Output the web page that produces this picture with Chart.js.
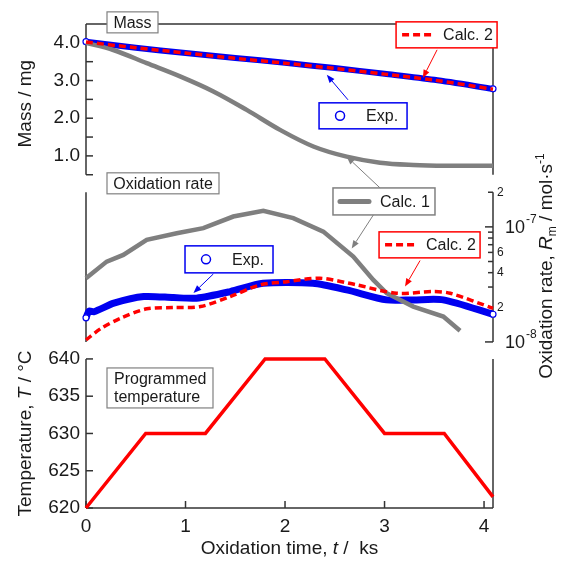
<!DOCTYPE html>
<html lang="en">
<head>
<meta charset="UTF-8" />
<title>Mass, oxidation rate and programmed temperature</title>
<script src="https://cdn.jsdelivr.net/npm/chart.js"></script>
<style>
  html, body { margin: 0; padding: 0; background: #fff; }
  #wrap { position: relative; width: 572px; height: 562px; }
</style>
</head>
<body>
<div id="wrap"><canvas id="chart"></canvas></div>
<script>
// ---- ticks ----
const timeTicks = [0, 1, 2, 3, 4];
const massTicks = [1.0, 2.0, 3.0, 4.0];
const massTickMarks = [0.5, 1.0, 1.5, 2.0, 2.5, 3.0, 3.5, 4.0];
const tempTicks = [620, 625, 630, 635, 640];
const rateDecades = [1e-8, 1e-7];
const rateMinorTicks = [2e-8, 3e-8, 4e-8, 5e-8, 6e-8, 7e-8, 8e-8, 9e-8, 2e-7];
const rateMinorLabelValues = [2e-8, 4e-8, 6e-8, 2e-7];
const rateMinorLabels = ['2', '4', '6', '2'];

// panel extents (where the axis lines run)
const timeRange = [0, 4.09];
const massRange = [0.5, 4.5];
const rateRange = [1e-8, 2e-7];
const tempRange = [620, 640];

// ---- mass / mg ----
const massExpTime = [0, 0.5, 1.0, 1.5, 2.0, 2.5, 3.0, 3.5, 4.09];
const massExp = [4.03, 3.87, 3.73, 3.60, 3.47, 3.33, 3.18, 3.02, 2.78];
const massCalc2Time = [0, 0.5, 1.0, 1.5, 2.0, 2.5, 3.0, 3.5, 4.09];
const massCalc2 = [4.02, 3.87, 3.73, 3.59, 3.46, 3.32, 3.17, 3.01, 2.77];
const massCalc1Time = [0, 0.275, 0.61, 0.945, 1.28, 1.615, 1.95, 2.285, 2.62, 2.955, 3.29, 3.625, 4.09];
const massCalc1 = [4.0, 3.81, 3.46, 3.11, 2.71, 2.22, 1.69, 1.25, 0.98, 0.82, 0.76, 0.74, 0.74];

// ---- oxidation rate / mol s-1 ----
const rateExpTime = [0, 0.03, 0.08, 0.28, 0.58, 0.88, 1.11, 1.45, 1.78, 2.28, 2.62, 3.02, 3.29, 3.59, 4.09];
const rateExp = [1.62e-8, 1.85e-8, 1.83e-8, 2.17e-8, 2.48e-8, 2.43e-8, 2.40e-8, 2.74e-8, 3.23e-8, 3.23e-8, 2.83e-8, 2.32e-8, 2.32e-8, 2.32e-8, 1.74e-8];
const rateCalc2Time = [0, 0.15, 0.35, 0.61, 0.88, 1.15, 1.45, 1.75, 2.02, 2.35, 2.72, 3.12, 3.49, 3.66, 4.09];
const rateCalc2 = [1.04e-8, 1.31e-8, 1.61e-8, 1.94e-8, 1.99e-8, 2.03e-8, 2.48e-8, 3.13e-8, 3.34e-8, 3.58e-8, 3.13e-8, 2.65e-8, 2.74e-8, 2.65e-8, 1.96e-8];
const rateCalc1Time = [0, 0.208, 0.375, 0.61, 0.912, 1.179, 1.48, 1.782, 2.083, 2.385, 2.686, 2.887, 3.022, 3.289, 3.591, 3.759];
const rateCalc1 = [3.58e-8, 4.99e-8, 5.71e-8, 7.71e-8, 8.81e-8, 9.74e-8, 1.23e-7, 1.38e-7, 1.19e-7, 9.1e-8, 5.52e-8, 3.46e-8, 2.65e-8, 2.03e-8, 1.66e-8, 1.25e-8];

// ---- programmed temperature / °C ----
const tempTime = [0, 0.6, 1.2, 1.8, 2.4, 3.0, 3.6, 4.09];
const tempValue = [620, 630, 630, 640, 640, 630, 630, 621.5];

const FONT = '"Liberation Sans", Arial, Helvetica, sans-serif';
const TEXT = '#1a1a1a';
const AXIS = '#333';
const BLUE = '#0000f0';
const RED = '#ff0000';
const GREY = '#7f7f7f';
const BOXGREY = '#808080';

// scale limits incl. the white gaps between panels (panel heights in px: 159.3 / 167 / 157.5)
const massLimits = [0.271, 4.5];
const rateLimits = [8.435e-9, 2.389e-7];
const tempLimits = [620, 641.14];

const pts = (xs, ys) => xs.map((x, i) => ({ x, y: ys[i] }));
const ends = c => (c.dataIndex === 0 || c.dataIndex === c.dataset.data.length - 1) ? 3 : 0;

Chart.defaults.font.family = FONT;
Chart.defaults.color = TEXT;

// annotation boxes: anchor (top-left) in data units, size in px
const labelBoxes = [
  { axis: 'yMass', x: 0.211, y: 4.822, w: 51, h: 21, lines: ['Mass'], align: 'center' },
  { axis: 'yRate', x: 0.211, y: 2.95e-7, w: 112, h: 21, lines: ['Oxidation rate'], align: 'center' },
  { axis: 'yTemp', x: 0.211, y: 638.79, w: 106, h: 40, lines: ['Programmed', 'temperature'], align: 'left' }
];
const legendBoxes = [
  { axis: 'yMass', x: 3.116, y: 4.557, w: 101, h: 26, kind: 'dash', color: RED, text: 'Calc. 2' },
  { axis: 'yMass', x: 2.342, y: 2.408, w: 88, h: 26, kind: 'circle', color: BLUE, text: 'Exp.' },
  { axis: 'yRate', x: 2.482, y: 2.18e-7, w: 102, h: 27, kind: 'line', color: BOXGREY, text: 'Calc. 1' },
  { axis: 'yRate', x: 0.995, y: 6.84e-8, w: 88, h: 27, kind: 'circle', color: BLUE, text: 'Exp.' },
  { axis: 'yRate', x: 2.945, y: 9.05e-8, w: 101, h: 26, kind: 'dash', color: RED, text: 'Calc. 2' }
];
const arrows = [
  { color: RED, from: ['yMass', 3.528, 3.814], to: ['yMass', 3.385, 3.07] },
  { color: BLUE, from: ['yMass', 2.633, 2.488], to: ['yMass', 2.42, 3.15] },
  { color: GREY, from: ['yRate', 2.955, 2.18e-7], to: ['yMass', 2.62, 0.98] },
  { color: GREY, from: ['yRate', 2.888, 1.27e-7], to: ['yRate', 2.67, 6.5e-8] },
  { color: BLUE, from: ['yRate', 1.28, 3.9e-8], to: ['yRate', 1.08, 2.66e-8] },
  { color: RED, from: ['yRate', 3.357, 5.1e-8], to: ['yRate', 3.206, 3.03e-8] }
];

function richText(ctx, parts, cx, cy, rot, size) {
  const fontOf = p => (p.it ? 'italic ' : '') + ((p.sub || p.sup) ? Math.round(size * 0.65) : size) + 'px ' + FONT;
  let total = 0;
  parts.forEach(p => { ctx.font = fontOf(p); p.w = ctx.measureText(p.t).width; total += p.w; });
  ctx.save();
  ctx.translate(cx, cy);
  ctx.rotate(rot);
  ctx.textAlign = 'left';
  ctx.textBaseline = 'middle';
  ctx.fillStyle = TEXT;
  let x = -total / 2;
  parts.forEach(p => {
    ctx.font = fontOf(p);
    const dy = p.sub ? size * 0.3 : p.sup ? -size * 0.35 : 0;
    ctx.fillText(p.t, x, dy);
    x += p.w;
  });
  ctx.restore();
}

function arrowLine(ctx, x1, y1, x2, y2, color) {
  const a = Math.atan2(y2 - y1, x2 - x1);
  const len = 8, half = 3.2;
  const bx = x2 - len * Math.cos(a), by = y2 - len * Math.sin(a);
  ctx.strokeStyle = color; ctx.fillStyle = color; ctx.lineWidth = 1; ctx.setLineDash([]);
  ctx.beginPath(); ctx.moveTo(x1, y1); ctx.lineTo(bx, by); ctx.stroke();
  ctx.beginPath();
  ctx.moveTo(x2, y2);
  ctx.lineTo(bx + half * Math.sin(a), by - half * Math.cos(a));
  ctx.lineTo(bx - half * Math.sin(a), by + half * Math.cos(a));
  ctx.closePath(); ctx.fill();
}

const framePlugin = {
  id: 'frame',
  beforeDatasetsDraw(chart) {
    const { ctx, chartArea: { left: L, right: R }, scales: { x, yMass, yRate, yTemp } } = chart;
    const seg = (x1, y1, x2, y2) => { ctx.beginPath(); ctx.moveTo(x1, y1); ctx.lineTo(x2, y2); ctx.stroke(); };
    ctx.save();
    ctx.strokeStyle = AXIS;
    ctx.lineWidth = 1.5;

    // mass panel: box without bottom edge
    const mT = yMass.getPixelForValue(massRange[1]), mB = yMass.getPixelForValue(massRange[0]);
    seg(L, mT, R, mT); seg(L, mT, L, mB); seg(R, mT, R, mB);
    massTickMarks.forEach(v => { const y = yMass.getPixelForValue(v); seg(L, y, L + 7, y); });

    // rate panel
    const rT = yRate.getPixelForValue(rateRange[1]), rB = yRate.getPixelForValue(rateRange[0]);
    seg(L, rT, L, rB); seg(R, rT, R, rB);
    rateDecades.forEach(v => { const y = yRate.getPixelForValue(v); seg(R - 8, y, R, y); });
    rateMinorTicks.forEach(v => { const y = yRate.getPixelForValue(v); seg(R - 5, y, R, y); });

    // temperature panel
    const tT = yTemp.getPixelForValue(tempRange[1]), tB = yTemp.getPixelForValue(tempRange[0]);
    seg(L, tT, L, tB); seg(R, tT, R, tB); seg(L, tB, R, tB);
    tempTicks.forEach(v => { const y = yTemp.getPixelForValue(v); seg(L, y, L + 7, y); });
    timeTicks.forEach(v => { const px = x.getPixelForValue(v); seg(px, tB, px, tB - 7); });

    // log axis labels
    ctx.fillStyle = TEXT;
    ctx.textAlign = 'left';
    ctx.textBaseline = 'middle';
    rateMinorLabelValues.forEach((v, i) => {
      ctx.font = '12px ' + FONT;
      ctx.fillText(rateMinorLabels[i], R + 4, yRate.getPixelForValue(v));
    });
    rateDecades.forEach(v => {
      const y = yRate.getPixelForValue(v);
      ctx.font = '18px ' + FONT;
      ctx.fillText('10', R + 12, y + 1);
      const w = ctx.measureText('10').width;
      ctx.font = '12px ' + FONT;
      ctx.fillText(String(Math.round(Math.log10(v))), R + 13 + w, y - 7);
    });

    // axis titles with italic symbols
    richText(ctx, [{ t: 'Temperature, ' }, { t: 'T', it: 1 }, { t: ' / °C' }], 26, (tT + tB) / 2, -Math.PI / 2, 19);
    richText(ctx, [{ t: 'Oxidation time, ' }, { t: 't', it: 1 }, { t: ' /  ks' }], (L + R) / 2, 549, 0, 19);
    richText(ctx, [{ t: 'Oxidation rate, ' }, { t: 'R', it: 1 }, { t: 'm', sub: 1 }, { t: ' / mol·s' }, { t: '-1', sup: 1 }],
      547, 266, -Math.PI / 2, 19);
    ctx.restore();
  },
  afterDatasetsDraw(chart) {
    const { ctx, scales } = chart;
    const P = (axis, xv, yv) => [scales.x.getPixelForValue(xv), scales[axis].getPixelForValue(yv)];
    ctx.save();
    ctx.textBaseline = 'middle';

    labelBoxes.forEach(b => {
      const [bx, by] = P(b.axis, b.x, b.y);
      ctx.fillStyle = '#fff'; ctx.fillRect(bx, by, b.w, b.h);
      ctx.strokeStyle = BOXGREY; ctx.lineWidth = 1.2; ctx.strokeRect(bx, by, b.w, b.h);
      ctx.fillStyle = TEXT; ctx.font = '16px ' + FONT;
      ctx.textAlign = b.align;
      const lh = 18, y0 = by + (b.h - lh * (b.lines.length - 1)) / 2;
      b.lines.forEach((s, i) => ctx.fillText(s, b.align === 'center' ? bx + b.w / 2 : bx + 7, y0 + i * lh + 1));
    });

    legendBoxes.forEach(b => {
      const [bx, by] = P(b.axis, b.x, b.y);
      const my = by + b.h / 2;
      ctx.fillStyle = '#fff'; ctx.fillRect(bx, by, b.w, b.h);
      ctx.strokeStyle = b.color; ctx.lineWidth = 1.5; ctx.setLineDash([]); ctx.strokeRect(bx, by, b.w, b.h);
      if (b.kind === 'dash') {
        ctx.strokeStyle = RED; ctx.lineWidth = 3.5; ctx.setLineDash([7, 4]);
        ctx.beginPath(); ctx.moveTo(bx + 6, my); ctx.lineTo(bx + 36, my); ctx.stroke();
        ctx.setLineDash([]);
      } else if (b.kind === 'line') {
        ctx.strokeStyle = GREY; ctx.lineWidth = 5; ctx.lineCap = 'round';
        ctx.beginPath(); ctx.moveTo(bx + 7, my); ctx.lineTo(bx + 36, my); ctx.stroke();
        ctx.lineCap = 'butt';
      } else {
        ctx.strokeStyle = BLUE; ctx.fillStyle = '#fff'; ctx.lineWidth = 1.5;
        ctx.beginPath(); ctx.arc(bx + 21, my, 4.5, 0, Math.PI * 2); ctx.fill(); ctx.stroke();
      }
      ctx.fillStyle = TEXT; ctx.font = '16px ' + FONT; ctx.textAlign = 'left';
      ctx.fillText(b.text, bx + 47, my + 1);
    });

    arrows.forEach(a => {
      const [x1, y1] = P(a.from[0], a.from[1], a.from[2]);
      const [x2, y2] = P(a.to[0], a.to[1], a.to[2]);
      arrowLine(ctx, x1, y1, x2, y2, a.color);
    });
    ctx.restore();
  }
};

const hiddenY = (position, stack, stackWeight, weight, width) => ({
  type: 'linear', position, stack, stackWeight, weight, min: 0, max: 1,
  ticks: { display: false }, grid: { display: false, drawTicks: false }, border: { display: false },
  afterFit: s => { s.width = width; }
});

new Chart(document.getElementById('chart'), {
  type: 'line',
  data: {
    datasets: [
      // first dataset is painted on top
      { label: 'Calc. 2 mass', data: pts(massCalc2Time, massCalc2), yAxisID: 'yMass',
        borderColor: RED, borderWidth: 3.5, borderDash: [7, 4], pointRadius: 0, tension: 0.3 },
      { label: 'Calc. 2 rate', data: pts(rateCalc2Time, rateCalc2), yAxisID: 'yRate',
        borderColor: RED, borderWidth: 3.5, borderDash: [7, 4], pointRadius: 0, tension: 0.3 },
      { label: 'Calc. 1 mass', data: pts(massCalc1Time, massCalc1), yAxisID: 'yMass',
        borderColor: GREY, borderWidth: 4.5, pointRadius: 0, tension: 0.35 },
      { label: 'Calc. 1 rate', data: pts(rateCalc1Time, rateCalc1), yAxisID: 'yRate',
        borderColor: GREY, borderWidth: 4.5, pointRadius: 0, tension: 0 },
      { label: 'Exp. mass', data: pts(massExpTime, massExp), yAxisID: 'yMass',
        borderColor: BLUE, borderWidth: 6, tension: 0.3,
        pointRadius: ends, pointBackgroundColor: '#fff', pointBorderColor: BLUE, pointBorderWidth: 1.2 },
      { label: 'Exp. rate', data: pts(rateExpTime, rateExp), yAxisID: 'yRate',
        borderColor: BLUE, borderWidth: 7, tension: 0.25,
        pointRadius: ends, pointBackgroundColor: '#fff', pointBorderColor: BLUE, pointBorderWidth: 1.2 },
      { label: 'Programmed temperature', data: pts(tempTime, tempValue), yAxisID: 'yTemp',
        borderColor: RED, borderWidth: 3.5, pointRadius: 0, tension: 0 }
    ].map(d => Object.assign({ xAxisID: 'x', clip: false, fill: false }, d))
  },
  options: {
    responsive: true,
    maintainAspectRatio: false,
    animation: false,
    devicePixelRatio: 1,
    layout: { padding: { top: 24, left: 0, right: 0, bottom: 0 } },
    plugins: { legend: { display: false }, tooltip: { enabled: false } },
    scales: {
      x: {
        type: 'linear', position: 'bottom', min: timeRange[0], max: timeRange[1],
        afterBuildTicks: s => { s.ticks = timeTicks.map(v => ({ value: v })); },
        ticks: { font: { size: 19 }, color: TEXT, padding: 7, autoSkip: false, maxRotation: 0, callback: v => String(v) },
        grid: { display: false, drawTicks: false }, border: { display: false },
        afterFit: s => { s.height = 54; }
      },
      yMass: {
        type: 'linear', position: 'left', stack: 'L', stackWeight: 159.3, weight: 3,
        min: massLimits[0], max: massLimits[1],
        afterBuildTicks: s => { s.ticks = massTicks.map(v => ({ value: v })); },
        ticks: { font: { size: 19 }, color: TEXT, padding: 6, autoSkip: false, callback: v => v.toFixed(1) },
        grid: { display: false, drawTicks: false }, border: { display: false },
        title: { display: true, text: 'Mass / mg', font: { size: 19 }, color: TEXT, padding: { top: 14, bottom: 0 } },
        afterFit: s => { s.width = 86; }
      },
      yRateL: hiddenY('left', 'L', 167, 2, 86),
      yTemp: {
        type: 'linear', position: 'left', stack: 'L', stackWeight: 157.5, weight: 1,
        min: tempLimits[0], max: tempLimits[1],
        afterBuildTicks: s => { s.ticks = tempTicks.map(v => ({ value: v })); },
        ticks: { font: { size: 19 }, color: TEXT, padding: 6, autoSkip: false, callback: v => String(v) },
        grid: { display: false, drawTicks: false }, border: { display: false },
        afterFit: s => { s.width = 86; }
      },
      yTopR: hiddenY('right', 'R', 159.3, 1, 79),
      yRate: {
        type: 'logarithmic', position: 'right', stack: 'R', stackWeight: 167, weight: 2,
        min: rateLimits[0], max: rateLimits[1],
        afterBuildTicks: s => { s.ticks = rateDecades.concat(rateMinorTicks).map(v => ({ value: v })); },
        ticks: { display: false },
        grid: { display: false, drawTicks: false }, border: { display: false },
        afterFit: s => { s.width = 79; }
      },
      yBotR: hiddenY('right', 'R', 157.5, 3, 79)
    }
  },
  plugins: [framePlugin]
});
</script>
</body>
</html>
